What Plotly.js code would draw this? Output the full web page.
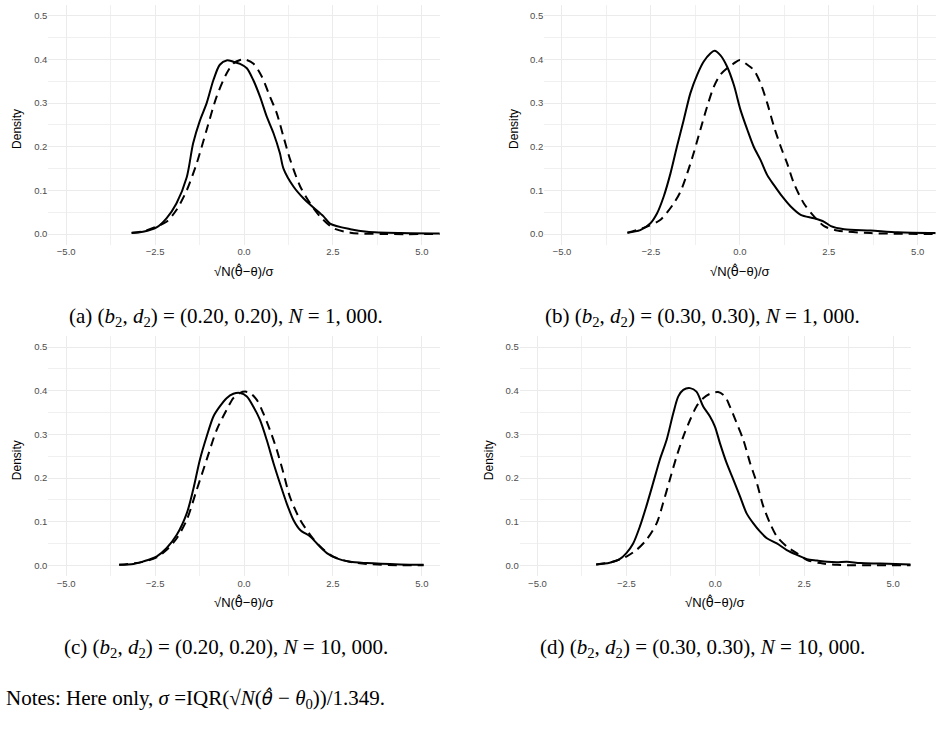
<!DOCTYPE html>
<html>
<head>
<meta charset="utf-8">
<script src="https://cdn.plot.ly/plotly-3.0.1.min.js"></script>
<style>
  html, body { margin: 0; padding: 0; background: #ffffff; }
  #fig { width: 942px; height: 733px; }
</style>
</head>
<body>
<div id="fig"></div>
<script>
// Kernel density estimates: solid = estimator, dashed = reference distribution.
// Panel (a): (b2, d2) = (0.20, 0.20), N = 1,000
const aSolidX = [-3.16, -2.84, -2.46, -2.18, -1.90, -1.61, -1.43, -1.24, -1.05, -0.86, -0.68, -0.49, -0.30, -0.11, 0.08, 0.26, 0.45, 0.64, 0.83, 1.01, 1.11, 1.39, 1.67, 1.95, 2.23, 2.42, 2.99, 3.46, 4.39, 5.52];
const aSolidY = [0.002, 0.005, 0.015, 0.036, 0.070, 0.130, 0.208, 0.260, 0.300, 0.353, 0.388, 0.398, 0.395, 0.390, 0.380, 0.353, 0.315, 0.269, 0.231, 0.185, 0.150, 0.109, 0.082, 0.061, 0.041, 0.024, 0.011, 0.005, 0.002, 0.001];
const aDashX = [-3.16, -2.84, -2.46, -2.18, -1.90, -1.61, -1.33, -1.05, -0.77, -0.49, -0.30, -0.11, 0.03, 0.26, 0.50, 0.73, 0.92, 1.11, 1.30, 1.58, 1.86, 2.14, 2.52, 2.99, 3.92, 5.52];
const aDashY = [0.003, 0.006, 0.017, 0.028, 0.055, 0.100, 0.162, 0.239, 0.315, 0.368, 0.391, 0.399, 0.400, 0.391, 0.361, 0.315, 0.277, 0.223, 0.170, 0.109, 0.070, 0.040, 0.013, 0.003, 0.000, 0.000];

// Panel (b): (b2, d2) = (0.30, 0.30), N = 1,000
const bSolidX = [-3.16, -2.80, -2.52, -2.33, -2.14, -1.95, -1.77, -1.58, -1.39, -1.20, -1.02, -0.83, -0.71, -0.55, -0.36, -0.17, 0.02, 0.21, 0.39, 0.58, 0.77, 0.96, 1.19, 1.43, 1.71, 2.09, 2.37, 2.56, 2.93, 3.68, 4.44, 5.56];
const bSolidY = [0.003, 0.009, 0.024, 0.047, 0.086, 0.139, 0.200, 0.261, 0.323, 0.365, 0.395, 0.414, 0.420, 0.410, 0.384, 0.342, 0.284, 0.239, 0.200, 0.170, 0.135, 0.112, 0.086, 0.063, 0.044, 0.036, 0.028, 0.018, 0.011, 0.008, 0.004, 0.002];
const bDashX = [-3.16, -2.61, -2.24, -1.86, -1.67, -1.48, -1.30, -1.11, -0.92, -0.73, -0.55, -0.36, -0.17, 0.00, 0.21, 0.39, 0.58, 0.77, 0.96, 1.15, 1.33, 1.52, 1.80, 2.09, 2.37, 2.74, 3.68, 5.56];
const bDashY = [0.003, 0.017, 0.032, 0.070, 0.097, 0.139, 0.185, 0.239, 0.292, 0.338, 0.365, 0.380, 0.391, 0.399, 0.388, 0.376, 0.346, 0.300, 0.246, 0.200, 0.162, 0.116, 0.070, 0.040, 0.018, 0.008, 0.002, 0.000];

// Panel (c): (b2, d2) = (0.20, 0.20), N = 10,000
const cSolidX = [-3.51, -3.11, -2.83, -2.46, -2.18, -1.89, -1.61, -1.43, -1.24, -1.05, -0.86, -0.68, -0.49, -0.30, -0.11, 0.08, 0.26, 0.45, 0.64, 0.83, 1.01, 1.20, 1.39, 1.58, 1.86, 2.05, 2.33, 2.61, 2.98, 3.45, 4.39, 5.05];
const cSolidY = [0.001, 0.003, 0.009, 0.020, 0.039, 0.070, 0.119, 0.173, 0.242, 0.295, 0.341, 0.364, 0.383, 0.393, 0.395, 0.387, 0.364, 0.333, 0.287, 0.234, 0.188, 0.142, 0.104, 0.081, 0.066, 0.050, 0.028, 0.016, 0.008, 0.005, 0.002, 0.001];
const cDashX = [-3.51, -2.83, -2.46, -2.18, -1.89, -1.61, -1.33, -1.05, -0.77, -0.49, -0.30, -0.11, 0.03, 0.17, 0.36, 0.54, 0.73, 0.92, 1.11, 1.29, 1.58, 1.86, 2.14, 2.51, 2.98, 3.45, 4.39, 5.05];
const cDashY = [0.001, 0.008, 0.018, 0.035, 0.062, 0.104, 0.173, 0.242, 0.310, 0.356, 0.383, 0.395, 0.398, 0.395, 0.379, 0.349, 0.310, 0.265, 0.211, 0.157, 0.104, 0.070, 0.043, 0.020, 0.008, 0.003, 0.000, 0.000];

// Panel (d): (b2, d2) = (0.30, 0.30), N = 10,000
const dSolidX = [-3.35, -2.97, -2.69, -2.50, -2.31, -2.12, -1.94, -1.75, -1.56, -1.37, -1.18, -1.04, -0.90, -0.71, -0.53, -0.34, -0.15, -0.01, 0.13, 0.32, 0.51, 0.70, 0.88, 1.07, 1.26, 1.45, 1.73, 2.01, 2.29, 2.58, 2.86, 3.14, 3.42, 3.70, 4.08, 4.64, 5.49];
const dSolidY = [0.002, 0.006, 0.014, 0.028, 0.050, 0.089, 0.135, 0.188, 0.242, 0.287, 0.349, 0.387, 0.402, 0.406, 0.398, 0.364, 0.341, 0.318, 0.280, 0.234, 0.196, 0.157, 0.119, 0.096, 0.077, 0.062, 0.050, 0.035, 0.024, 0.014, 0.011, 0.008, 0.007, 0.008, 0.005, 0.004, 0.002];
const dDashX = [-3.35, -2.88, -2.50, -2.22, -1.94, -1.65, -1.47, -1.28, -1.09, -0.90, -0.71, -0.53, -0.34, -0.15, 0.08, 0.27, 0.41, 0.60, 0.79, 0.98, 1.17, 1.35, 1.54, 1.73, 2.01, 2.29, 2.58, 2.95, 3.42, 5.49];
const dDashY = [0.002, 0.008, 0.020, 0.035, 0.058, 0.096, 0.142, 0.196, 0.249, 0.295, 0.333, 0.364, 0.383, 0.393, 0.397, 0.387, 0.364, 0.326, 0.287, 0.234, 0.188, 0.135, 0.096, 0.066, 0.043, 0.028, 0.012, 0.005, 0.001, 0.000];

const panelLabels = [
  "(a) (<i>b</i><sub>2</sub>, <i>d</i><sub>2</sub>) = (0.20, 0.20), <i>N</i> = 1, 000.",
  "(b) (<i>b</i><sub>2</sub>, <i>d</i><sub>2</sub>) = (0.30, 0.30), <i>N</i> = 1, 000.",
  "(c) (<i>b</i><sub>2</sub>, <i>d</i><sub>2</sub>) = (0.20, 0.20), <i>N</i> = 10, 000.",
  "(d) (<i>b</i><sub>2</sub>, <i>d</i><sub>2</sub>) = (0.30, 0.30), <i>N</i> = 10, 000."
];
// theta-hat is set in DejaVu Sans, which positions the combining circumflex over the base letter
const xTitle = "\u221AN(<span style=\"font-family:'DejaVu Sans'\">\u03B8\u0302</span>\u2212\u03B8)/\u03C3";
const yTitle = "Density";
const notesText = "Notes: Here only, <i>\u03C3</i> =IQR(\u221A<i>N</i>(<span style=\"font-family:'DejaVu Sans';font-size:18px;font-style:italic\">\u03B8\u0302</span> \u2212 <i>\u03B8</i><sub>0</sub>))/1.349.";

const W = 942, H = 733;
const fx = p => p / W;
const fy = p => 1 - p / H;

// Panel boxes in pixels: [left, right, top, bottom]
const boxes = [
  [48.4, 439.6, 5.0, 244.9],
  [544.2, 935.5, 5.0, 244.9],
  [48.4, 439.6, 336.2, 576.2],
  [519.7, 910.9, 336.2, 576.2]
];
const series = [
  [aSolidX, aSolidY, aDashX, aDashY],
  [bSolidX, bSolidY, bDashX, bDashY],
  [cSolidX, cSolidY, cDashX, cDashY],
  [dSolidX, dSolidY, dDashX, dDashY]
];

const traces = [];
const layout = {
  width: W, height: H,
  margin: {l: 0, r: 0, t: 0, b: 0},
  paper_bgcolor: "#ffffff",
  plot_bgcolor: "#ffffff",
  showlegend: false,
  font: {family: "Liberation Sans, Arial, sans-serif", color: "#000000"},
  annotations: []
};

series.forEach((s, i) => {
  const n = i + 1;
  const xa = n === 1 ? "x" : "x" + n;
  const ya = n === 1 ? "y" : "y" + n;
  traces.push({
    x: s[0], y: s[1], xaxis: xa, yaxis: ya, type: "scatter", mode: "lines",
    line: {color: "#000000", width: 2, shape: "spline", smoothing: 0.8},
    hoverinfo: "skip"
  });
  traces.push({
    x: s[2], y: s[3], xaxis: xa, yaxis: ya, type: "scatter", mode: "lines",
    line: {color: "#000000", width: 2, dash: "9px,6px", shape: "spline", smoothing: 0.8},
    hoverinfo: "skip"
  });
  const b = boxes[i];
  const axBase = {
    showline: false, zeroline: false, ticks: "",
    showgrid: true, gridcolor: "#ebebeb", gridwidth: 1,
    tickfont: {size: 9.5, color: "#4d4d4d", family: "Liberation Sans, Arial, sans-serif"},
    tickformat: ".1f"
  };
  layout[n === 1 ? "xaxis" : "xaxis" + n] = Object.assign({}, axBase, {
    domain: [fx(b[0]), fx(b[1])], anchor: ya,
    range: [-5.5, 5.5], tick0: 0, dtick: 2.5,
    minor: {dtick: 1.25, tick0: 0, showgrid: true, gridcolor: "#f0f0f0", gridwidth: 1}
  });
  layout[n === 1 ? "yaxis" : "yaxis" + n] = Object.assign({}, axBase, {
    domain: [fy(b[3]), fy(b[2])], anchor: xa,
    range: [-0.025, 0.525], tick0: 0, dtick: 0.1,
    minor: {dtick: 0.05, tick0: 0, showgrid: true, gridcolor: "#f0f0f0", gridwidth: 1}
  });
  const cx = (b[0] + b[1]) / 2;
  layout.annotations.push({
    xref: "paper", yref: "paper", x: fx(cx), y: fy(b[3] + 26), xanchor: "center", yanchor: "middle",
    text: xTitle, showarrow: false, font: {size: 13, color: "#000000"}
  });
  const dxs = [17, 514, 17, 489];
  layout.annotations.push({
    xref: "paper", yref: "paper", x: fx(dxs[i]), y: fy((b[2] + b[3]) / 2 + 4), xanchor: "center", yanchor: "middle",
    text: yTitle, textangle: -90, showarrow: false, font: {size: 12, color: "#000000"}
  });
});

// Sub-figure captions and the note underneath
const capX = [226, 702, 226, 702];
const capY = [317, 317, 648, 648];
const serif = "Liberation Serif, Times New Roman, serif";
panelLabels.forEach((t, i) => {
  layout.annotations.push({
    xref: "paper", yref: "paper", x: fx(capX[i]), y: fy(capY[i]), xanchor: "center", yanchor: "middle",
    text: t, showarrow: false, font: {size: 21, family: serif, color: "#000000"}
  });
});
layout.annotations.push({
  xref: "paper", yref: "paper", x: fx(4), y: fy(699), xanchor: "left", yanchor: "middle",
  text: notesText, showarrow: false, font: {size: 21, family: serif, color: "#000000"}
});

Plotly.newPlot("fig", traces, layout, {staticPlot: true, displayModeBar: false});
</script>
</body>
</html>
